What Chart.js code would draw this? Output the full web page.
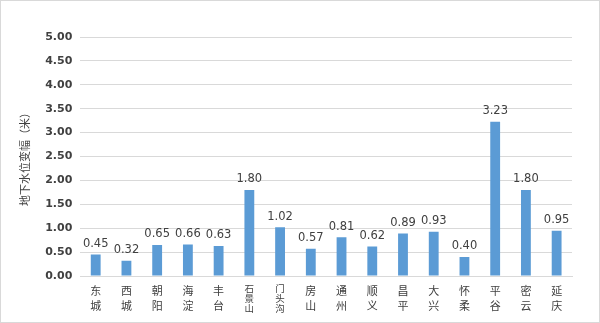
<!DOCTYPE html>
<html>
<head>
<meta charset="utf-8">
<script src="https://cdn.jsdelivr.net/npm/chart.js@4/dist/chart.umd.min.js"></script>
<style>
  html, body { margin: 0; padding: 0; background: #fff; }
  #wrap { position: relative; width: 598px; height: 321px; border: 1px solid #d9d9d9; }
</style>
</head>
<body>
<div id="wrap"><canvas id="c"></canvas></div>
<script>
// 各区地下水位变幅
const districts = ["东城", "西城", "朝阳", "海淀", "丰台", "石景山", "门头沟", "房山", "通州", "顺义", "昌平", "大兴", "怀柔", "平谷", "密云", "延庆"];
const changeValues = [0.45, 0.32, 0.65, 0.66, 0.63, 1.80, 1.02, 0.57, 0.81, 0.62, 0.89, 0.93, 0.40, 3.23, 1.80, 0.95];
const yTicks = [0, 0.5, 1, 1.5, 2, 2.5, 3, 3.5, 4, 4.5, 5];

// 竖排区名：每个字一行
const verticalLabels = districts.map(name => name.split(""));

const valueLabels = {
  id: "valueLabels",
  afterDatasetsDraw(chart) {
    const ctx = chart.ctx;
    const meta = chart.getDatasetMeta(0);
    ctx.save();
    ctx.font = "11.5px 'DejaVu Sans', sans-serif";
    ctx.fillStyle = "#404040";
    ctx.textAlign = "center";
    ctx.textBaseline = "bottom";
    meta.data.forEach((bar, i) => {
      ctx.fillText(changeValues[i].toFixed(2), bar.x, bar.y - 5);
    });
    ctx.restore();
  }
};

new Chart(document.getElementById("c"), {
  type: "bar",
  data: {
    labels: verticalLabels,
    datasets: [{
      data: changeValues,
      backgroundColor: "#5b9bd5",
      borderWidth: 0,
      barPercentage: 0.32,
      categoryPercentage: 1
    }]
  },
  options: {
    responsive: true,
    maintainAspectRatio: false,
    animation: false,
    layout: { padding: { top: 36, right: 27, bottom: 1, left: 17 } },
    plugins: {
      legend: { display: false },
      tooltip: { enabled: false }
    },
    scales: {
      x: {
        grid: { display: false, drawTicks: false },
        border: { display: true, color: "#d9d9d9" },
        ticks: {
          color: "#404040",
          padding: 7,
          maxRotation: 0,
          autoSkip: false,
          font: (ctx) => {
            const n = verticalLabels[ctx.index] ? verticalLabels[ctx.index].length : 2;
            return {
              family: "'Noto Sans CJK SC', sans-serif",
              size: n > 2 ? 9.5 : 11,
              lineHeight: n > 2 ? "10.3px" : "15px"
            };
          }
        }
      },
      y: {
        min: 0,
        max: 5,
        afterBuildTicks(axis) { axis.ticks = yTicks.map(v => ({ value: v })); },
        grid: { color: "#d9d9d9", drawTicks: false },
        border: { display: false },
        ticks: {
          color: "#404040",
          padding: 8,
          font: { family: "'DejaVu Sans', sans-serif", size: 11, weight: "bold" },
          callback: (v) => Number(v).toFixed(2)
        },
        title: {
          display: true,
          text: "地下水位变幅（米）",
          color: "#404040",
          padding: { top: 0, bottom: 6 },
          font: { family: "'Noto Sans CJK SC', sans-serif", size: 11 }
        }
      }
    }
  },
  plugins: [valueLabels]
});
</script>
</body>
</html>
